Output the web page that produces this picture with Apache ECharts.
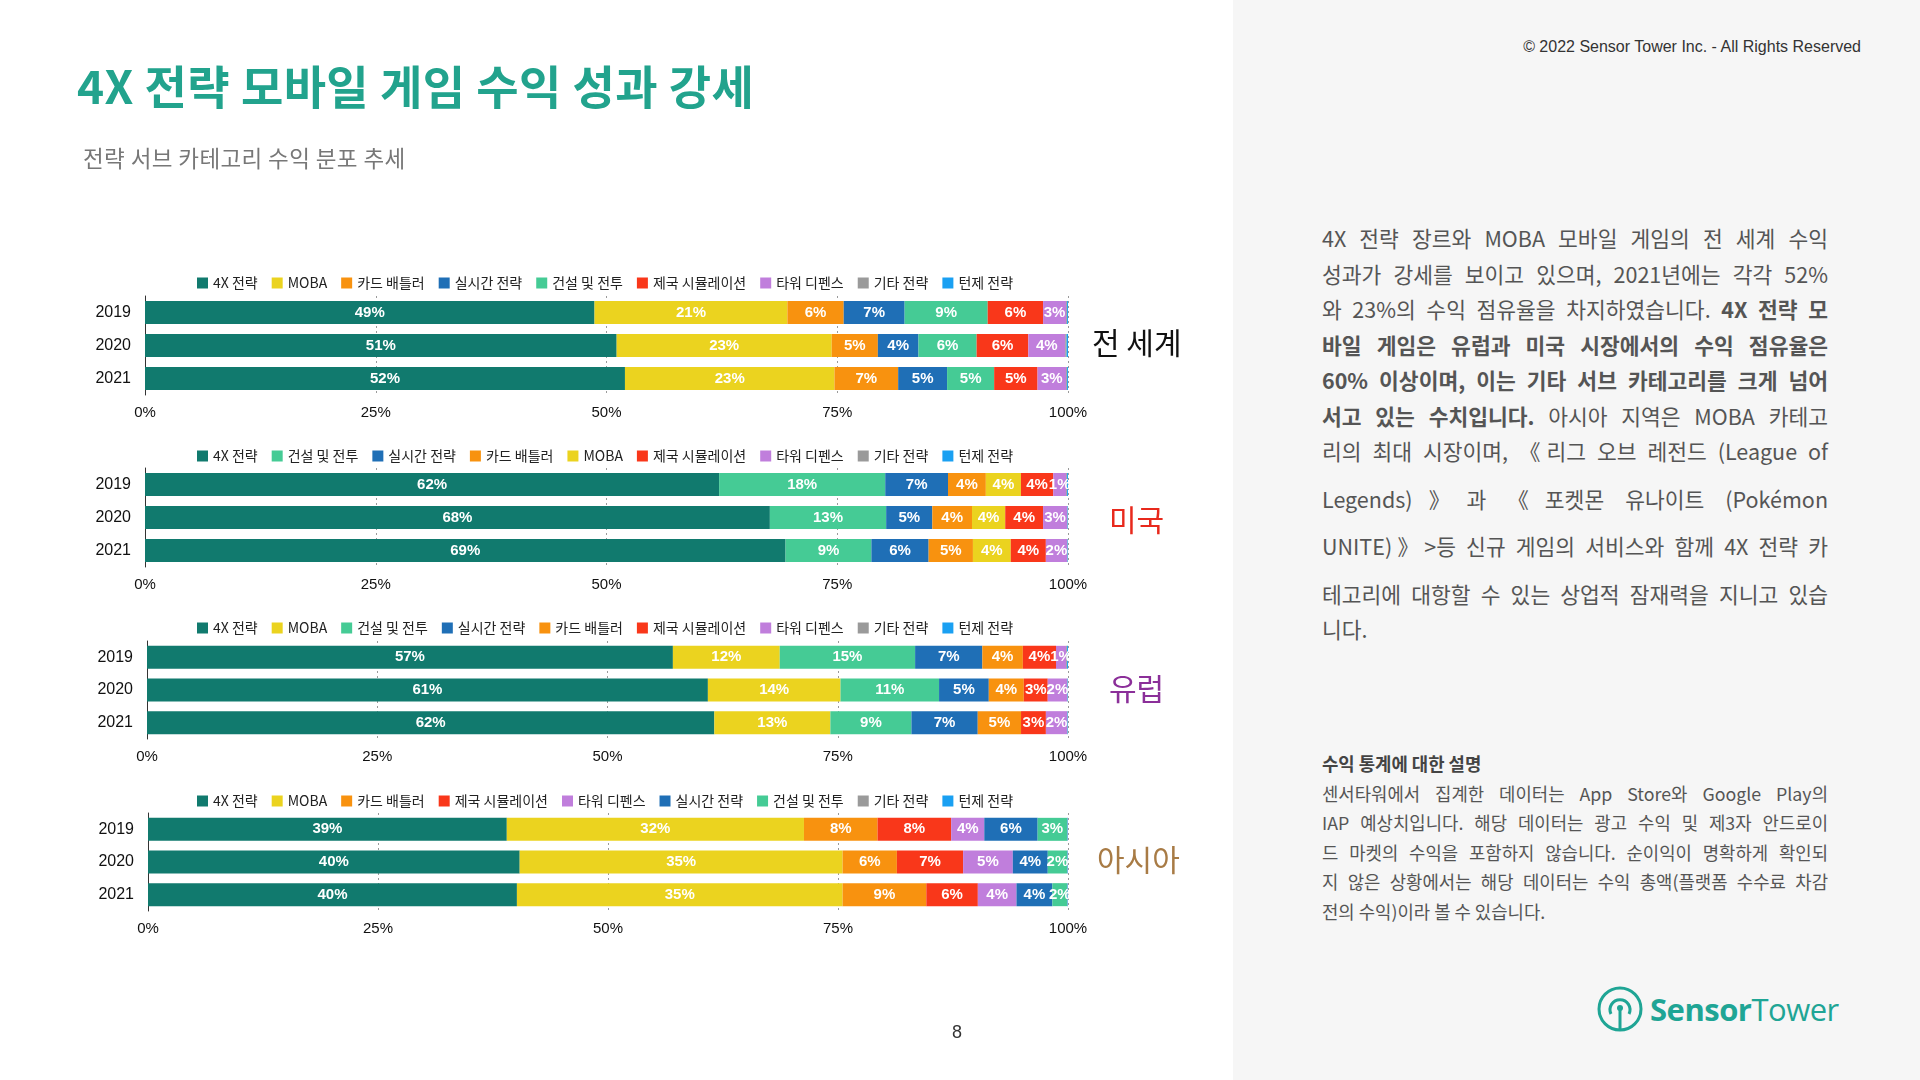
<!DOCTYPE html>
<html>
<head>
<meta charset="utf-8">
<script src="https://cdn.jsdelivr.net/npm/echarts@6/dist/echarts.min.js"></script>
<style>
  body { margin: 0; width: 1920px; height: 1080px; background: #fff; position: relative; overflow: hidden;
         font-family: "Noto Sans CJK KR", "Noto Sans", sans-serif; }
  #chart { position: absolute; left: 0; top: 0; width: 1233px; height: 1080px; }
  #side { position: absolute; left: 1233px; top: 0; width: 687px; height: 1080px; background: #f6f6f6; }
  .title { position: absolute; left: 77px; top: 51px; font-size: 46px; font-weight: 700; color: #22a38d; white-space: nowrap; letter-spacing: 0.4px; }
  .sub { position: absolute; left: 83px; top: 141px; font-size: 22.5px; color: #777; white-space: nowrap; letter-spacing: 0.4px; }
  .copy { position: absolute; right: 59px; top: 38px; font-size: 16px; color: #333; font-family: "Liberation Sans", Arial, sans-serif; }
  .para { position: absolute; left: 1322px; top: 220px; width: 506px; font-size: 21.5px; color: #555; }
  .para div, .note div { white-space: nowrap; text-align: justify; text-align-last: justify; }
  .para div { height: 35.5px; line-height: 35.5px; }
  .para div.gap { margin-top: 12px; }
  .para div.last, .note div.last { text-align-last: left; }
  .note { position: absolute; left: 1322px; top: 749px; width: 506px; font-size: 17.8px; color: #555; }
  .note div { height: 29.5px; line-height: 29.5px; }
  .note .head { font-weight: 700; color: #444; text-align-last: left; }
  .page { position: absolute; left: 952px; top: 1022px; font-size: 18px; color: #333; font-family: "Liberation Sans", Arial, sans-serif; }
  .logo { position: absolute; left: 1596px; top: 984px; height: 50px; display: flex; align-items: center; color: #1fa595; }
  .logo span { font-family: "Open Sans", "Noto Sans", sans-serif; font-size: 31px; letter-spacing: -0.5px; }
</style>
</head>
<body>
<div id="chart"></div>
<div id="side"></div>
<div class="title">4X 전략 모바일 게임 수익 성과 강세</div>
<div class="sub">전략 서브 카테고리 수익 분포 추세</div>
<div class="copy">© 2022 Sensor Tower Inc. - All Rights Reserved</div>
<div class="para">
  <div>4X 전략 장르와 MOBA 모바일 게임의 전 세계 수익</div>
  <div>성과가 강세를 보이고 있으며, 2021년에는 각각 52%</div>
  <div>와 23%의 수익 점유율을 차지하였습니다. <b>4X 전략 모</b></div>
  <div><b>바일 게임은 유럽과 미국 시장에서의 수익 점유율은</b></div>
  <div><b>60% 이상이며, 이는 기타 서브 카테고리를 크게 넘어</b></div>
  <div><b>서고 있는 수치입니다.</b> 아시아 지역은 MOBA 카테고</div>
  <div>리의 최대 시장이며, 《리그 오브 레전드 (League of</div>
  <div class="gap">Legends)》과 《포켓몬 유나이트 (Pokémon</div>
  <div class="gap">UNITE)》&gt;등 신규 게임의 서비스와 함께 4X 전략 카</div>
  <div class="gap">테고리에 대항할 수 있는 상업적 잠재력을 지니고 있습</div>
  <div class="last">니다.</div>
</div>
<div class="note">
  <div class="head">수익 통계에 대한 설명</div>
  <div>센서타워에서 집계한 데이터는 App Store와 Google Play의</div>
  <div>IAP 예상치입니다. 해당 데이터는 광고 수익 및 제3자 안드로이</div>
  <div>드 마켓의 수익을 포함하지 않습니다. 순이익이 명확하게 확인되</div>
  <div>지 않은 상황에서는 해당 데이터는 수익 총액(플랫폼 수수료 차감</div>
  <div class="last">전의 수익)이라 볼 수 있습니다.</div>
</div>
<div class="page">8</div>
<div class="logo">
  <svg width="48" height="50" viewBox="0 0 48 50">
    <circle cx="24" cy="25" r="21" fill="none" stroke="#1fa595" stroke-width="3"/>
    <path d="M15 30 A10 10 0 1 1 33 30" fill="none" stroke="#1fa595" stroke-width="3"/>
    <line x1="24" y1="26" x2="24" y2="46" stroke="#1fa595" stroke-width="3"/>
    <circle cx="24" cy="24" r="3" fill="#1fa595"/>
  </svg>
  <span style="font-weight:700;margin-left:6px;">Sensor</span><span style="font-weight:400;">Tower</span>
</div>

<script>
// 데이터 -------------------------------------------------
var years = ['2019', '2020', '2021'];
var tickLabels = ['0%', '25%', '50%', '75%', '100%'];

// 카테고리 색상
var catColors = {
  '4X 전략': '#117a6e',
  'MOBA': '#ebd31f',
  '카드 배틀러': '#f8920f',
  '실시간 전략': '#1f6fb6',
  '건설 및 전투': '#45cb95',
  '제국 시뮬레이션': '#f9371a',
  '타워 디펜스': '#c07edc',
  '기타 전략': '#9a9a9a',
  '턴제 전략': '#1aa0f2'
};

// 전 세계
var worldCats = ['4X 전략', 'MOBA', '카드 배틀러', '실시간 전략', '건설 및 전투', '제국 시뮬레이션', '타워 디펜스', '기타 전략', '턴제 전략'];
var worldShares = [
  [48.7, 51.1, 52.0],
  [20.9, 23.3, 22.7],
  [6.1, 5.0, 6.9],
  [6.6, 4.4, 5.3],
  [9.0, 6.3, 5.1],
  [6.0, 5.6, 4.7],
  [2.5, 4.0, 3.1],
  [0.1, 0.15, 0.1],
  [0.1, 0.15, 0.1]
];

// 미국
var usCats = ['4X 전략', '건설 및 전투', '실시간 전략', '카드 배틀러', 'MOBA', '제국 시뮬레이션', '타워 디펜스', '기타 전략', '턴제 전략'];
var usShares = [
  [62.2, 67.7, 69.4],
  [18.0, 12.6, 9.3],
  [6.8, 5.0, 6.2],
  [4.1, 4.3, 4.8],
  [3.8, 3.6, 4.1],
  [3.5, 4.1, 3.8],
  [1.4, 2.6, 2.3],
  [0.1, 0.05, 0.05],
  [0.1, 0.05, 0.05]
];

// 유럽
var euCats = ['4X 전략', 'MOBA', '건설 및 전투', '실시간 전략', '카드 배틀러', '제국 시뮬레이션', '타워 디펜스', '기타 전략', '턴제 전략'];
var euShares = [
  [57.1, 60.9, 61.6],
  [11.6, 14.4, 12.6],
  [14.7, 10.7, 8.8],
  [7.3, 5.4, 7.2],
  [4.4, 3.8, 4.7],
  [3.6, 2.6, 2.7],
  [1.1, 2.1, 2.3],
  [0.1, 0.05, 0.05],
  [0.1, 0.05, 0.05]
];

// 아시아
var asiaCats = ['4X 전략', 'MOBA', '카드 배틀러', '제국 시뮬레이션', '타워 디펜스', '실시간 전략', '건설 및 전투', '기타 전략', '턴제 전략'];
var asiaShares = [
  [39.0, 40.4, 40.1],
  [32.3, 35.1, 35.4],
  [8.0, 5.9, 9.1],
  [8.0, 7.2, 5.6],
  [3.6, 5.4, 4.2],
  [5.8, 3.8, 3.9],
  [3.2, 2.1, 1.6],
  [0.05, 0.05, 0.05],
  [0.05, 0.05, 0.05]
];

var regionNames = ['전 세계', '미국', '유럽', '아시아'];
var regionColors = ['#111111', '#e8291c', '#8b2f99', '#a87b45'];

// 레이아웃 -----------------------------------------------
var regions = [
  { cats: worldCats, shares: worldShares, left: 145, width: 923, top: 296, height: 99, legendTop: 271, labelY: 344, labelX: 1092 },
  { cats: usCats, shares: usShares, left: 145, width: 923, top: 468, height: 99, legendTop: 444, labelY: 521, labelX: 1109 },
  { cats: euCats, shares: euShares, left: 147, width: 921, top: 641, height: 98, legendTop: 616, labelY: 690, labelX: 1109 },
  { cats: asiaCats, shares: asiaShares, left: 148, width: 920, top: 813, height: 98, legendTop: 789, labelY: 861, labelX: 1097 }
];

(function () {
  var myChart = echarts.init(document.getElementById('chart'));
  var font = '"Liberation Sans", "Noto Sans CJK KR", sans-serif';

  var grid = [], xAxis = [], yAxis = [], legend = [], series = [], graphic = [];

  regions.forEach(function (r, i) {
    grid.push({ left: r.left, top: r.top, width: r.width, height: r.height });

    xAxis.push({
      type: 'value', gridIndex: i, min: 0, max: 100, interval: 25,
      axisLine: { show: false }, axisTick: { show: false },
      axisLabel: {
        color: '#111', fontSize: 15, margin: 10, fontFamily: font,
        formatter: function (v) { return tickLabels[v / 25]; }
      },
      splitLine: { show: true, lineStyle: { color: '#9a9a9a', type: [2, 3], width: 1 } }
    });

    yAxis.push({
      type: 'category', gridIndex: i, data: years, inverse: true,
      axisLine: { show: true, lineStyle: { color: '#333', width: 1 } },
      axisTick: { show: false },
      axisLabel: { color: '#111', fontSize: 16, margin: 14, fontFamily: font }
    });

    legend.push({
      data: r.cats, top: r.legendTop, left: 192,
      icon: 'rect', itemWidth: 11, itemHeight: 11, itemGap: 14,
      textStyle: { fontSize: 14, color: '#222', fontFamily: '"Noto Sans CJK KR", sans-serif' }
    });

    r.cats.forEach(function (name, k) {
      series.push({
        name: name, type: 'bar', stack: 'r' + i,
        xAxisIndex: i, yAxisIndex: i,
        barWidth: 23,
        itemStyle: { color: catColors[name] },
        label: {
          show: true, position: 'inside', color: '#fff', fontSize: 15, fontWeight: 'bold', fontFamily: font,
          formatter: function (p) { return p.value >= 1 ? Math.round(p.value) + '%' : ''; }
        },
        data: r.shares[k]
      });
    });

    graphic.push({
      type: 'text',
      left: r.labelX,
      top: r.labelY - 16,
      style: {
        text: regionNames[i], fill: regionColors[i], fontSize: 30,
        fontFamily: '"Noto Sans CJK KR", sans-serif'
      }
    });
  });

  var option = {
    animation: false,
    textStyle: { fontFamily: font },
    grid: grid,
    xAxis: xAxis,
    yAxis: yAxis,
    legend: legend,
    series: series,
    graphic: graphic
  };

  myChart.setOption(option);
})();
</script>
</body>
</html>
